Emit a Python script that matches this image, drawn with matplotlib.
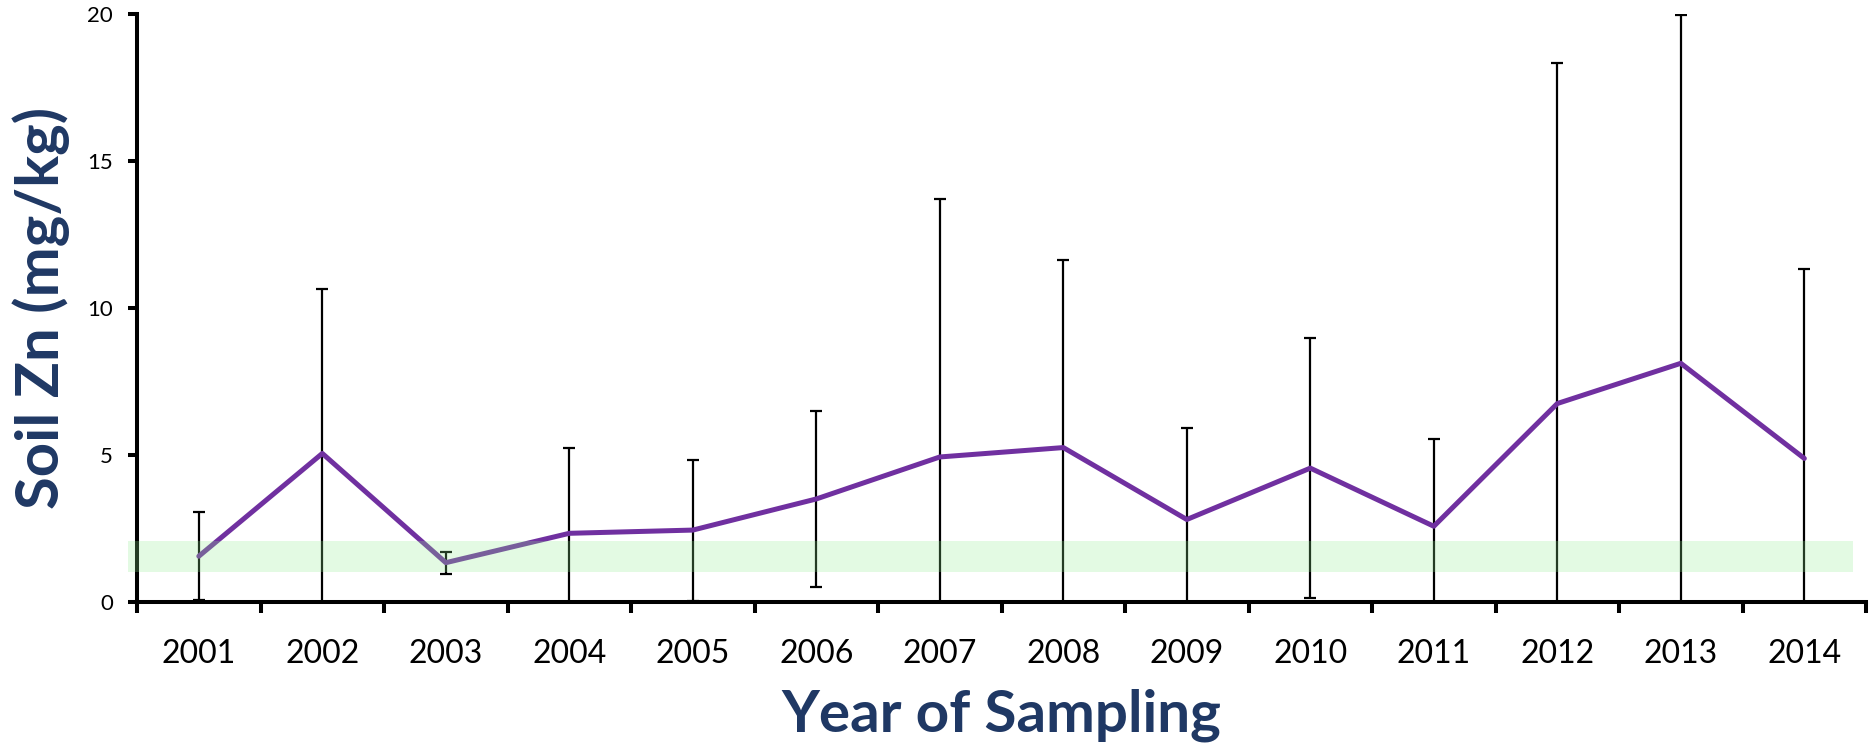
import matplotlib
matplotlib.use("Agg")
import matplotlib.pyplot as plt
from matplotlib.ticker import FixedLocator

# Soil zinc by sampling year: mean and standard deviation
years = ["2001", "2002", "2003", "2004", "2005", "2006", "2007",
         "2008", "2009", "2010", "2011", "2012", "2013", "2014"]
zn_mean = [1.55, 5.05, 1.33, 2.33, 2.44, 3.50, 4.93,
           5.25, 2.80, 4.55, 2.57, 6.75, 8.12, 4.88]
zn_sd = [1.50, 5.60, 0.37, 2.91, 2.40, 3.00, 8.77,
         6.38, 3.13, 4.43, 2.96, 11.60, 11.85, 6.46]

# Adequate soil Zn range shaded across the chart
adequate_low, adequate_high = 1.02, 2.07

title_color = "#1F3864"
line_color = "#7030A0"

fig = plt.figure(figsize=(18.7, 7.46), dpi=100)
ax = fig.add_axes([0.0733, 0.1934, 0.9246, 0.7872])

x = list(range(len(years)))

ax.errorbar(x, zn_mean, yerr=zn_sd, fmt="none", ecolor="black",
            elinewidth=1.6, capsize=4.5, capthick=1.6, zorder=2)
ax.plot(x, zn_mean, color=line_color, linewidth=3.6,
        solid_capstyle="round", zorder=3)

band = ax.axhspan(adequate_low, adequate_high, xmin=-0.005, xmax=0.9925,
                  facecolor="#90EE90", alpha=0.25, edgecolor="none", zorder=4)
band.set_clip_on(False)

ax.set_xlim(-0.5, len(years) - 0.5)
ax.set_ylim(0, 20)
ax.set_yticks([0, 5, 10, 15, 20])

ax.set_xticks(x)
ax.set_xticklabels(years)
ax.xaxis.set_minor_locator(FixedLocator([i - 0.5 for i in range(len(years) + 1)]))
ax.tick_params(axis="x", which="major", length=0, pad=27)
ax.tick_params(axis="x", which="minor", length=8, width=2.9, direction="out")
ax.tick_params(axis="y", which="major", length=6.5, width=2.9, direction="out", pad=11)

for lab in ax.get_xticklabels():
    lab.set_fontfamily("Lato")
    lab.set_fontsize(23)
for lab in ax.get_yticklabels():
    lab.set_fontfamily("Lato")
    lab.set_fontsize(16)

for side in ("top", "right"):
    ax.spines[side].set_visible(False)
for side in ("left", "bottom"):
    ax.spines[side].set_linewidth(2.9)

ax.set_xlabel("Year of Sampling", fontfamily="Lato", fontweight="bold",
              fontsize=42, color=title_color, labelpad=14)
ax.set_ylabel("Soil Zn (mg/kg)", fontfamily="Lato", fontweight="bold",
              fontsize=43, color=title_color, labelpad=12)

fig.savefig("out.png", dpi=100)
